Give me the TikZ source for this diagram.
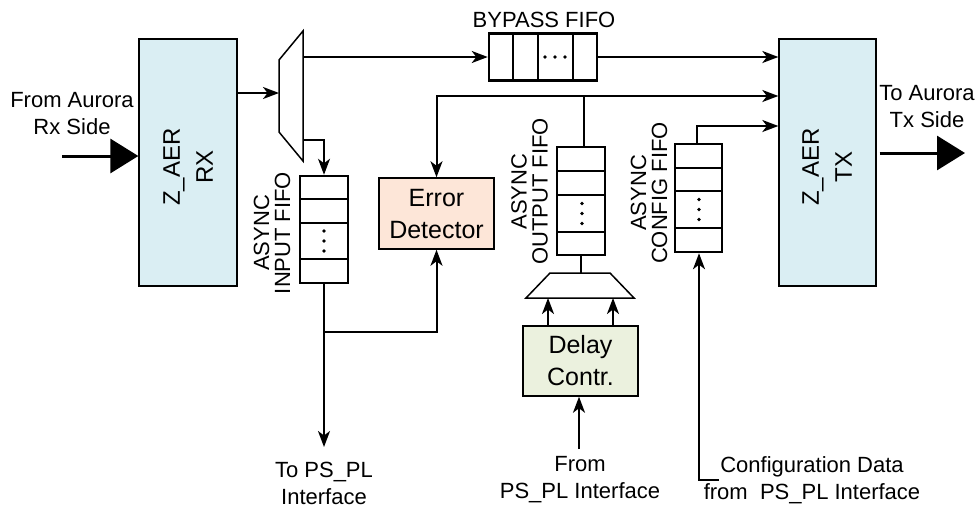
\documentclass[tikz,border=0pt]{standalone}
\usepackage{fontspec}
\setmainfont{Liberation Sans}
\usetikzlibrary{arrows.meta,calc}
\definecolor{zblue}{HTML}{DAEEF3}
\definecolor{errfill}{HTML}{FDE6D8}
\definecolor{dlyfill}{HTML}{EBF1DE}
\tikzset{
  zbox/.style={draw, fill=zblue, line width=1.3pt, inner sep=0pt},
  blk/.style={draw, line width=1.5pt, inner sep=0pt},
  fifobox/.style={draw, line width=2.5pt, inner sep=0pt},
  fifoline/.style={line width=2.5pt},
  conn/.style={line width=2pt},
  arr/.style={line width=2pt, -{Stealth[length=16pt,width=12pt,inset=4.5pt]}},
  bigarr/.style={line width=3pt, -{Triangle[length=28pt,width=34pt]}},
  edgelbl/.style={align=center, font=\fontsize{22}{27}\selectfont, inner sep=0pt},
  fifolbl/.style={align=center, rotate=90, font=\fontsize{22}{21}\selectfont, inner sep=0pt},
  blklbl/.style={align=center, font=\fontsize{25}{32}\selectfont, inner sep=0pt},
  zlbl/.style={align=center, rotate=90, font=\fontsize{24}{33}\selectfont, inner sep=0pt},
  dotc/.style={fill=black}
}
\begin{document}
\begin{tikzpicture}[x=1pt,y=-1pt]
\useasboundingbox (0,0) rectangle (977,512);

% main blocks
\node[zbox, minimum width=98pt, minimum height=247pt] (rx) at (188,162.5) {};
\node[zlbl] (rxl) at (188,167) {Z\_AER\\RX};
\node[zbox, minimum width=97pt, minimum height=247pt] (tx) at (827.5,162.5) {};
\node[zlbl] (txl) at (827,167) {Z\_AER\\TX};
\node[blk, fill=errfill, minimum width=115pt, minimum height=71pt] (err) at (436.5,213.5) {};
\node[blklbl] (errl) at (436.5,214) {Error\\Detector};
\node[blk, fill=dlyfill, minimum width=115pt, minimum height=70pt] (dly) at (580.5,361) {};
\node[blklbl] (dlyl) at (580.5,361) {Delay\\Contr.};

% top demux
\draw[line width=1.5pt] (279,60) -- (303,31) -- (303,161) -- (279,132) -- cycle;
\coordinate (mxin) at (279,93);
\coordinate (mxo1) at (303,57);
\coordinate (mxo2) at (303,140);

% bottom mux
\draw[line width=1.5pt] (550,273) -- (610,273) -- (634,298) -- (526,298) -- cycle;
\coordinate (mbtop) at (581,273);
\coordinate (mbl) at (548,298);
\coordinate (mbr) at (613,298);

% bypass fifo
\node[fifobox, minimum width=108pt, minimum height=47pt] (byp) at (543,57) {};
\draw[fifoline] (513,33) -- (513,80) (538,33) -- (538,80) (573,33) -- (573,80);
\foreach \xx in {545,555,565} \fill[dotc] (\xx,57) circle (1.9pt);
\node[edgelbl] (bypl) at (544,20) {BYPASS FIFO};

% input fifo
\node[fifobox, minimum width=48pt, minimum height=107pt] (inf) at (324,229.5) {};
\draw[fifoline] (300,199) -- (348,199) (300,223) -- (348,223) (300,259) -- (348,259);
\foreach \yy in {231,241,251} \fill[dotc] (324,\yy) circle (1.9pt);
\node[fifolbl] (infl) at (272,233) {ASYNC\\INPUT FIFO};

% output fifo
\node[fifobox, minimum width=48pt, minimum height=108pt] (outf) at (581,201) {};
\draw[fifoline] (557,171) -- (605,171) (557,195) -- (605,195) (557,232) -- (605,232);
\foreach \yy in {203.5,213.5,223.5} \fill[dotc] (582,\yy) circle (1.9pt);
\node[fifolbl] (outfl) at (529.5,191.5) {ASYNC\\OUTPUT FIFO};

% config fifo
\node[fifobox, minimum width=47pt, minimum height=108pt] (cfg) at (698.5,198) {};
\draw[fifoline] (675,168) -- (722,168) (675,191) -- (722,191) (675,228) -- (722,228);
\foreach \yy in {199.5,209.5,219.5} \fill[dotc] (699,\yy) circle (1.9pt);
\node[fifolbl] (cfgl) at (649,193) {ASYNC\\CONFIG FIFO};

% external labels
\node[edgelbl] (fromrx) at (72,113.5) {From Aurora\\Rx Side};
\node[edgelbl] (totx) at (927,106.5) {To Aurora\\Tx Side};
\node[edgelbl] (tops) at (324,483.5) {To PS\_PL\\Interface};
\node[edgelbl] (fromps) at (580,479.5) {From\\PS\_PL Interface};
\node[edgelbl] (cfgd) at (812,480) {Configuration Data\\from\ \ PS\_PL Interface};

% big in/out arrows
\coordinate (inst) at (62,156);
\draw[bigarr] (inst) -- (inst -| rx.west);
\coordinate (outend) at (965,153);
\draw[bigarr] (outend -| tx.east) ++(3,0) -- (outend);

% connectors
\draw[arr] (mxin -| rx.east) -- (mxin);
\draw[arr] (mxo1) -- (byp.west);
\draw[arr] (byp.east) -- (byp.east -| tx.west);
\draw[arr, line width=1.3pt] (mxo2) -| (inf.north);

\coordinate (topsp) at (324,447);
\draw[arr] (inf.south) -- (topsp);
\coordinate (br) at (324,332);
\draw[arr] (br) -| (err.south);

\coordinate (j1) at (584,96);
\draw[conn] ($(outf.north)+(3,0)$) -- (j1);
\draw[arr] (j1) -- (j1 -| tx.west);
\draw[arr] (j1) -| (err.north);

\coordinate (cfgup) at (697,126);
\draw[arr] ($(cfg.north)+(-1.5,0)$) -- (cfgup) -- (cfgup -| tx.west);

\coordinate (cfgc) at (699,480);
\coordinate (cfgt) at (719,480);
\draw[arr] (cfgt) -- (cfgc) -- (cfg.south -| cfgc);

\draw[conn] (outf.south) -- (mbtop);
\draw[arr] (dly.north -| mbl) -- (mbl);
\draw[arr] (dly.north -| mbr) -- (mbr);
\coordinate (fromp) at (579,449);
\draw[arr] (fromp) -- (dly.south -| fromp);
\end{tikzpicture}
\end{document}
